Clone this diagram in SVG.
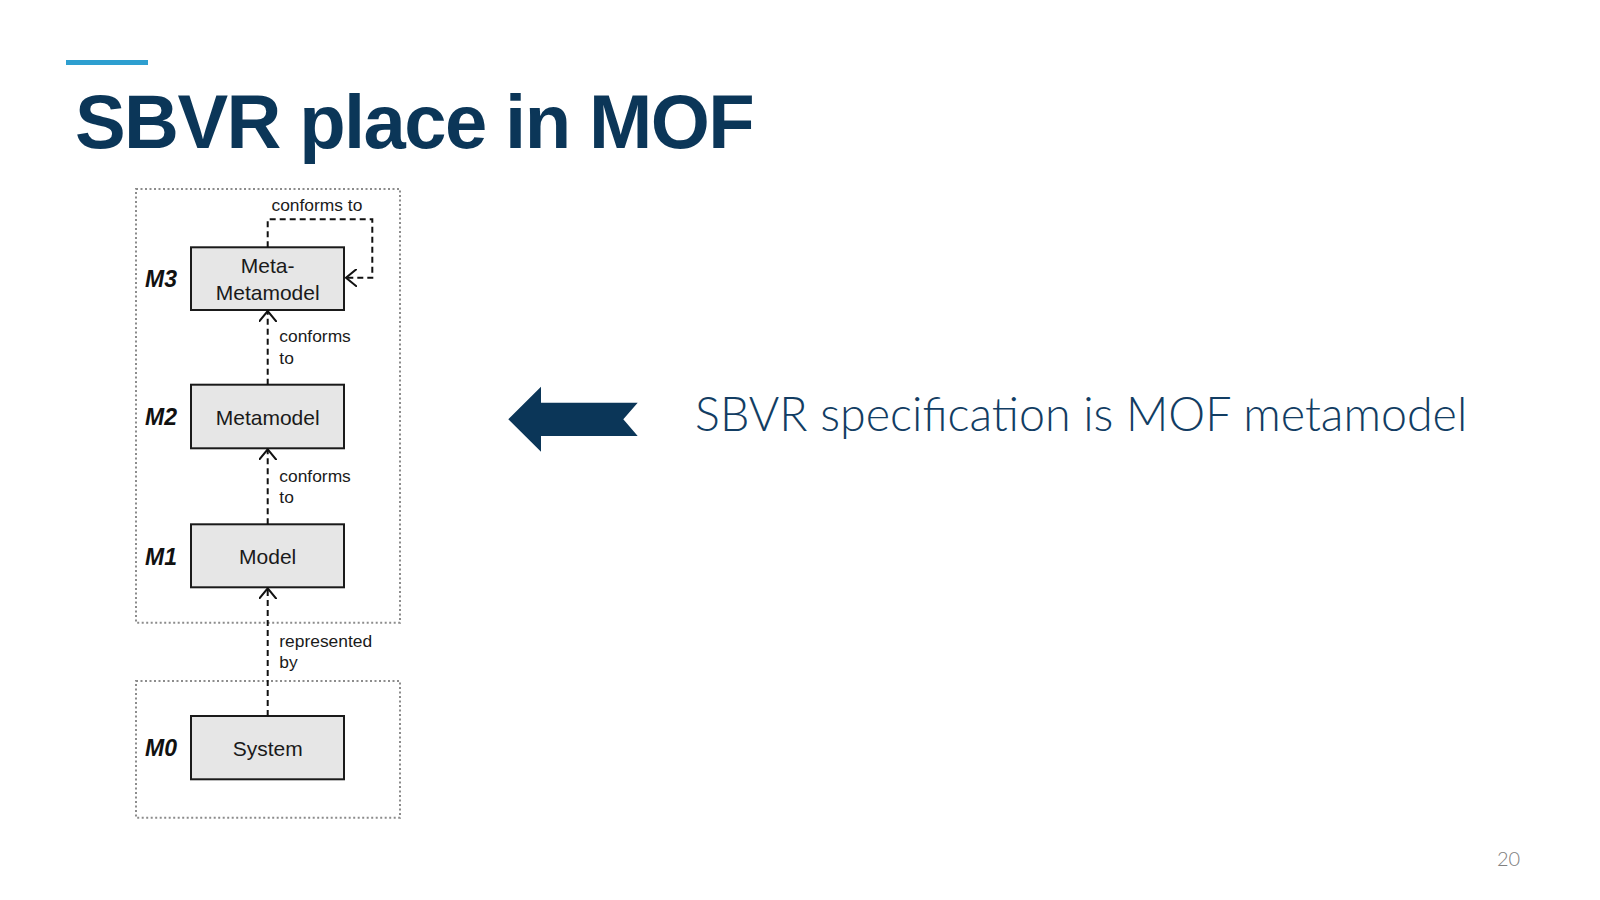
<svg xmlns="http://www.w3.org/2000/svg" width="1600" height="900" viewBox="0 0 1600 900">
<defs>
<style>
.dot{fill:none;stroke:#8c8c8c;stroke-width:2;stroke-dasharray:2 2.5}
.node{fill:#e6e6e6;stroke:#1a1a1a;stroke-width:2}
.nt{font-family:"Liberation Sans",Arial,sans-serif;font-size:21px;fill:#1a1a1a;text-anchor:middle}
.lvl{font-family:"Liberation Sans",Arial,sans-serif;font-size:23px;font-weight:bold;font-style:italic;fill:#111}
.lbl{font-family:"Liberation Sans",Arial,sans-serif;font-size:17.4px;fill:#1a1a1a}
.con{fill:none;stroke:#111;stroke-width:2;stroke-dasharray:6 4}
</style>
<marker id="open" viewBox="0 0 12 18" refX="11" refY="9" markerWidth="12" markerHeight="18" markerUnits="userSpaceOnUse" orient="auto">
<path d="M0,0 L11,9 L0,18" fill="none" stroke="#111" stroke-width="2"/>
</marker>
</defs>
<rect width="1600" height="900" fill="#ffffff"/>
<rect x="66" y="60" width="82" height="5" fill="#2e9fd0"/>
<text x="75" y="148" font-family="Liberation Sans,Arial,sans-serif" font-weight="bold" font-size="76" letter-spacing="-1.6" fill="#0b3658">SBVR place in MOF</text>

<g id="frame-m3-m1"><rect class="dot" x="136" y="189" width="264" height="433.7"/></g>
<g id="frame-m0"><rect class="dot" x="136" y="681" width="264" height="136.7"/></g>

<g id="levels">
<text class="lvl" x="145" y="287">M3</text>
<text class="lvl" x="145" y="425">M2</text>
<text class="lvl" x="145" y="564.5">M1</text>
<text class="lvl" x="145" y="756">M0</text>
</g>

<g id="node-metametamodel">
<rect class="node" x="191" y="247.3" width="153" height="62.7"/>
<text class="nt" x="267.7" y="273">Meta-</text>
<text class="nt" x="267.7" y="299.5">Metamodel</text>
</g>
<g id="node-metamodel">
<rect class="node" x="191" y="384.7" width="153" height="63.6"/>
<text class="nt" x="267.7" y="424.5">Metamodel</text>
</g>
<g id="node-model">
<rect class="node" x="191" y="524.3" width="153" height="63"/>
<text class="nt" x="267.7" y="564">Model</text>
</g>
<g id="node-system">
<rect class="node" x="191" y="716" width="153" height="63.3"/>
<text class="nt" x="267.7" y="755.7">System</text>
</g>

<g id="connectors">
<path class="con" d="M267.7,247.3 V219.3 H372.3 V277.7 H346" marker-end="url(#open)"/>
<path class="con" d="M267.7,384.7 V311" marker-end="url(#open)"/>
<path class="con" d="M267.7,524.3 V449.3" marker-end="url(#open)"/>
<path class="con" d="M267.7,716 V588.3" marker-end="url(#open)"/>
<text class="lbl" x="271.5" y="210.7">conforms to</text>
<text class="lbl" x="279.3" y="342.3">conforms</text>
<text class="lbl" x="279.3" y="364">to</text>
<text class="lbl" x="279.3" y="481.7">conforms</text>
<text class="lbl" x="279.3" y="502.7">to</text>
<text class="lbl" x="279.3" y="646.7">represented</text>
<text class="lbl" x="279.3" y="668.3">by</text>
</g>

<g id="big-arrow">
<path d="M508.3,419.3 L541,386.7 L541,402.7 L637.7,402.7 L623.3,419.3 L637.7,436 L541,436 L541,451.7 Z" fill="#0b3658"/>
</g>
<text x="695" y="431" font-family="Lato,'Open Sans',sans-serif" font-weight="300" font-size="46.6" fill="#123d63">SBVR specification is MOF metamodel</text>
<text x="1497" y="866" font-family="Lato,'Open Sans',sans-serif" font-weight="300" font-size="20" fill="#808080">20</text>
</svg>
